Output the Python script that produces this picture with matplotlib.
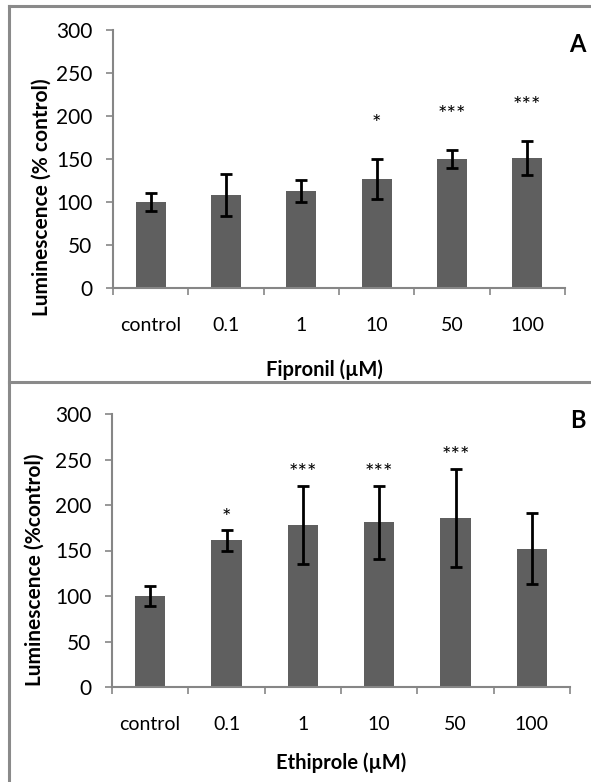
import numpy as np
import matplotlib.pyplot as plt
from matplotlib.lines import Line2D

plt.rcParams['font.family'] = ['Lato', 'DejaVu Sans']

categories = ['control', '0.1', '1', '10', '50', '100']

# panel A: fipronil
fip_mean = [100, 108, 113, 127, 150, 151]
fip_err = [11, 24, 13, 23, 10, 20]
fip_stars = ['', '', '', '*', '***', '***']

# panel B: ethiprole
eth_mean = [100, 161, 178, 181, 186, 152]
eth_err = [11, 11, 43, 40, 54, 39]
eth_stars = ['', '*', '***', '***', '***', '']

W, H = 591, 782
fig = plt.figure(figsize=(W / 100, H / 100), dpi=100)

bar_col = '#5f5f5f'
axis_col = '#868686'


def px_axes(x0, y0, x1, y1):
    # pixel box (image coords) -> figure axes
    return fig.add_axes([x0 / W, 1 - y1 / H, (x1 - x0) / W, (y1 - y0) / H])


def fig_text(px, py, s, **kw):
    fig.text(px / W, 1 - py / H, s, ha='center', va='center', **kw)


def panel(ax, means, errs, stars, star_gap, letter, ylabel, xlabel,
          letter_pos, ylab_pos, xlab_pos):
    x = np.arange(len(categories))
    ax.bar(x, means, width=0.4, color=bar_col, zorder=2)
    ax.errorbar(x, means, yerr=errs, fmt='none', ecolor='black',
                elinewidth=2, capsize=4, capthick=2, zorder=3)
    for xi, m, e, s in zip(x, means, errs, stars):
        if s:
            ax.annotate(s, (xi, m + e), xytext=(0, star_gap), textcoords='offset points',
                        ha='center', va='baseline', fontsize=16)
    ax.set_xlim(-0.5, len(categories) - 0.5)
    ax.set_ylim(0, 300)
    ax.set_yticks(range(0, 301, 50))
    ax.set_xticks(x)
    ax.set_xticklabels(categories, fontsize=14)
    ax.set_xticks(np.arange(-0.5, len(categories)), minor=True)
    ax.tick_params(axis='x', which='major', length=0, pad=21)
    ax.tick_params(axis='x', which='minor', length=5, width=1.2, color=axis_col, direction='out')
    ax.tick_params(axis='y', labelsize=15, length=5, width=1.2, color=axis_col, pad=10)
    for side in ['top', 'right']:
        ax.spines[side].set_visible(False)
    for side in ['left', 'bottom']:
        ax.spines[side].set_color(axis_col)
        ax.spines[side].set_linewidth(1.5)
    fig_text(*letter_pos, letter, fontsize=17, fontweight='bold')
    fig_text(*ylab_pos, ylabel, rotation=90, fontsize=15, fontweight='bold')
    fig_text(*xlab_pos, xlabel, fontsize=14.5, fontweight='bold')


axA = px_axes(113, 30, 565, 288)
panel(axA, fip_mean, fip_err, fip_stars, 21, 'A', 'Luminescence (% control)',
      'Fipronil (µM)', (577, 45), (42, 197), (324, 370))

axB = px_axes(112, 414, 570, 687)
panel(axB, eth_mean, eth_err, eth_stars, 5, 'B', 'Luminescence (%control)',
      'Ethiprole (µM)', (578, 420), (35, 570), (341, 763))

# panel frames
frame_col = '#8a8a8a'
for xs, ys in [([9, 9], [6, H]), ([9, W], [6, 6]), ([9, W], [382, 382])]:
    fig.add_artist(Line2D([v / W for v in xs], [1 - v / H for v in ys],
                          color=frame_col, linewidth=2.2))

fig.savefig('out.png', dpi=100)
